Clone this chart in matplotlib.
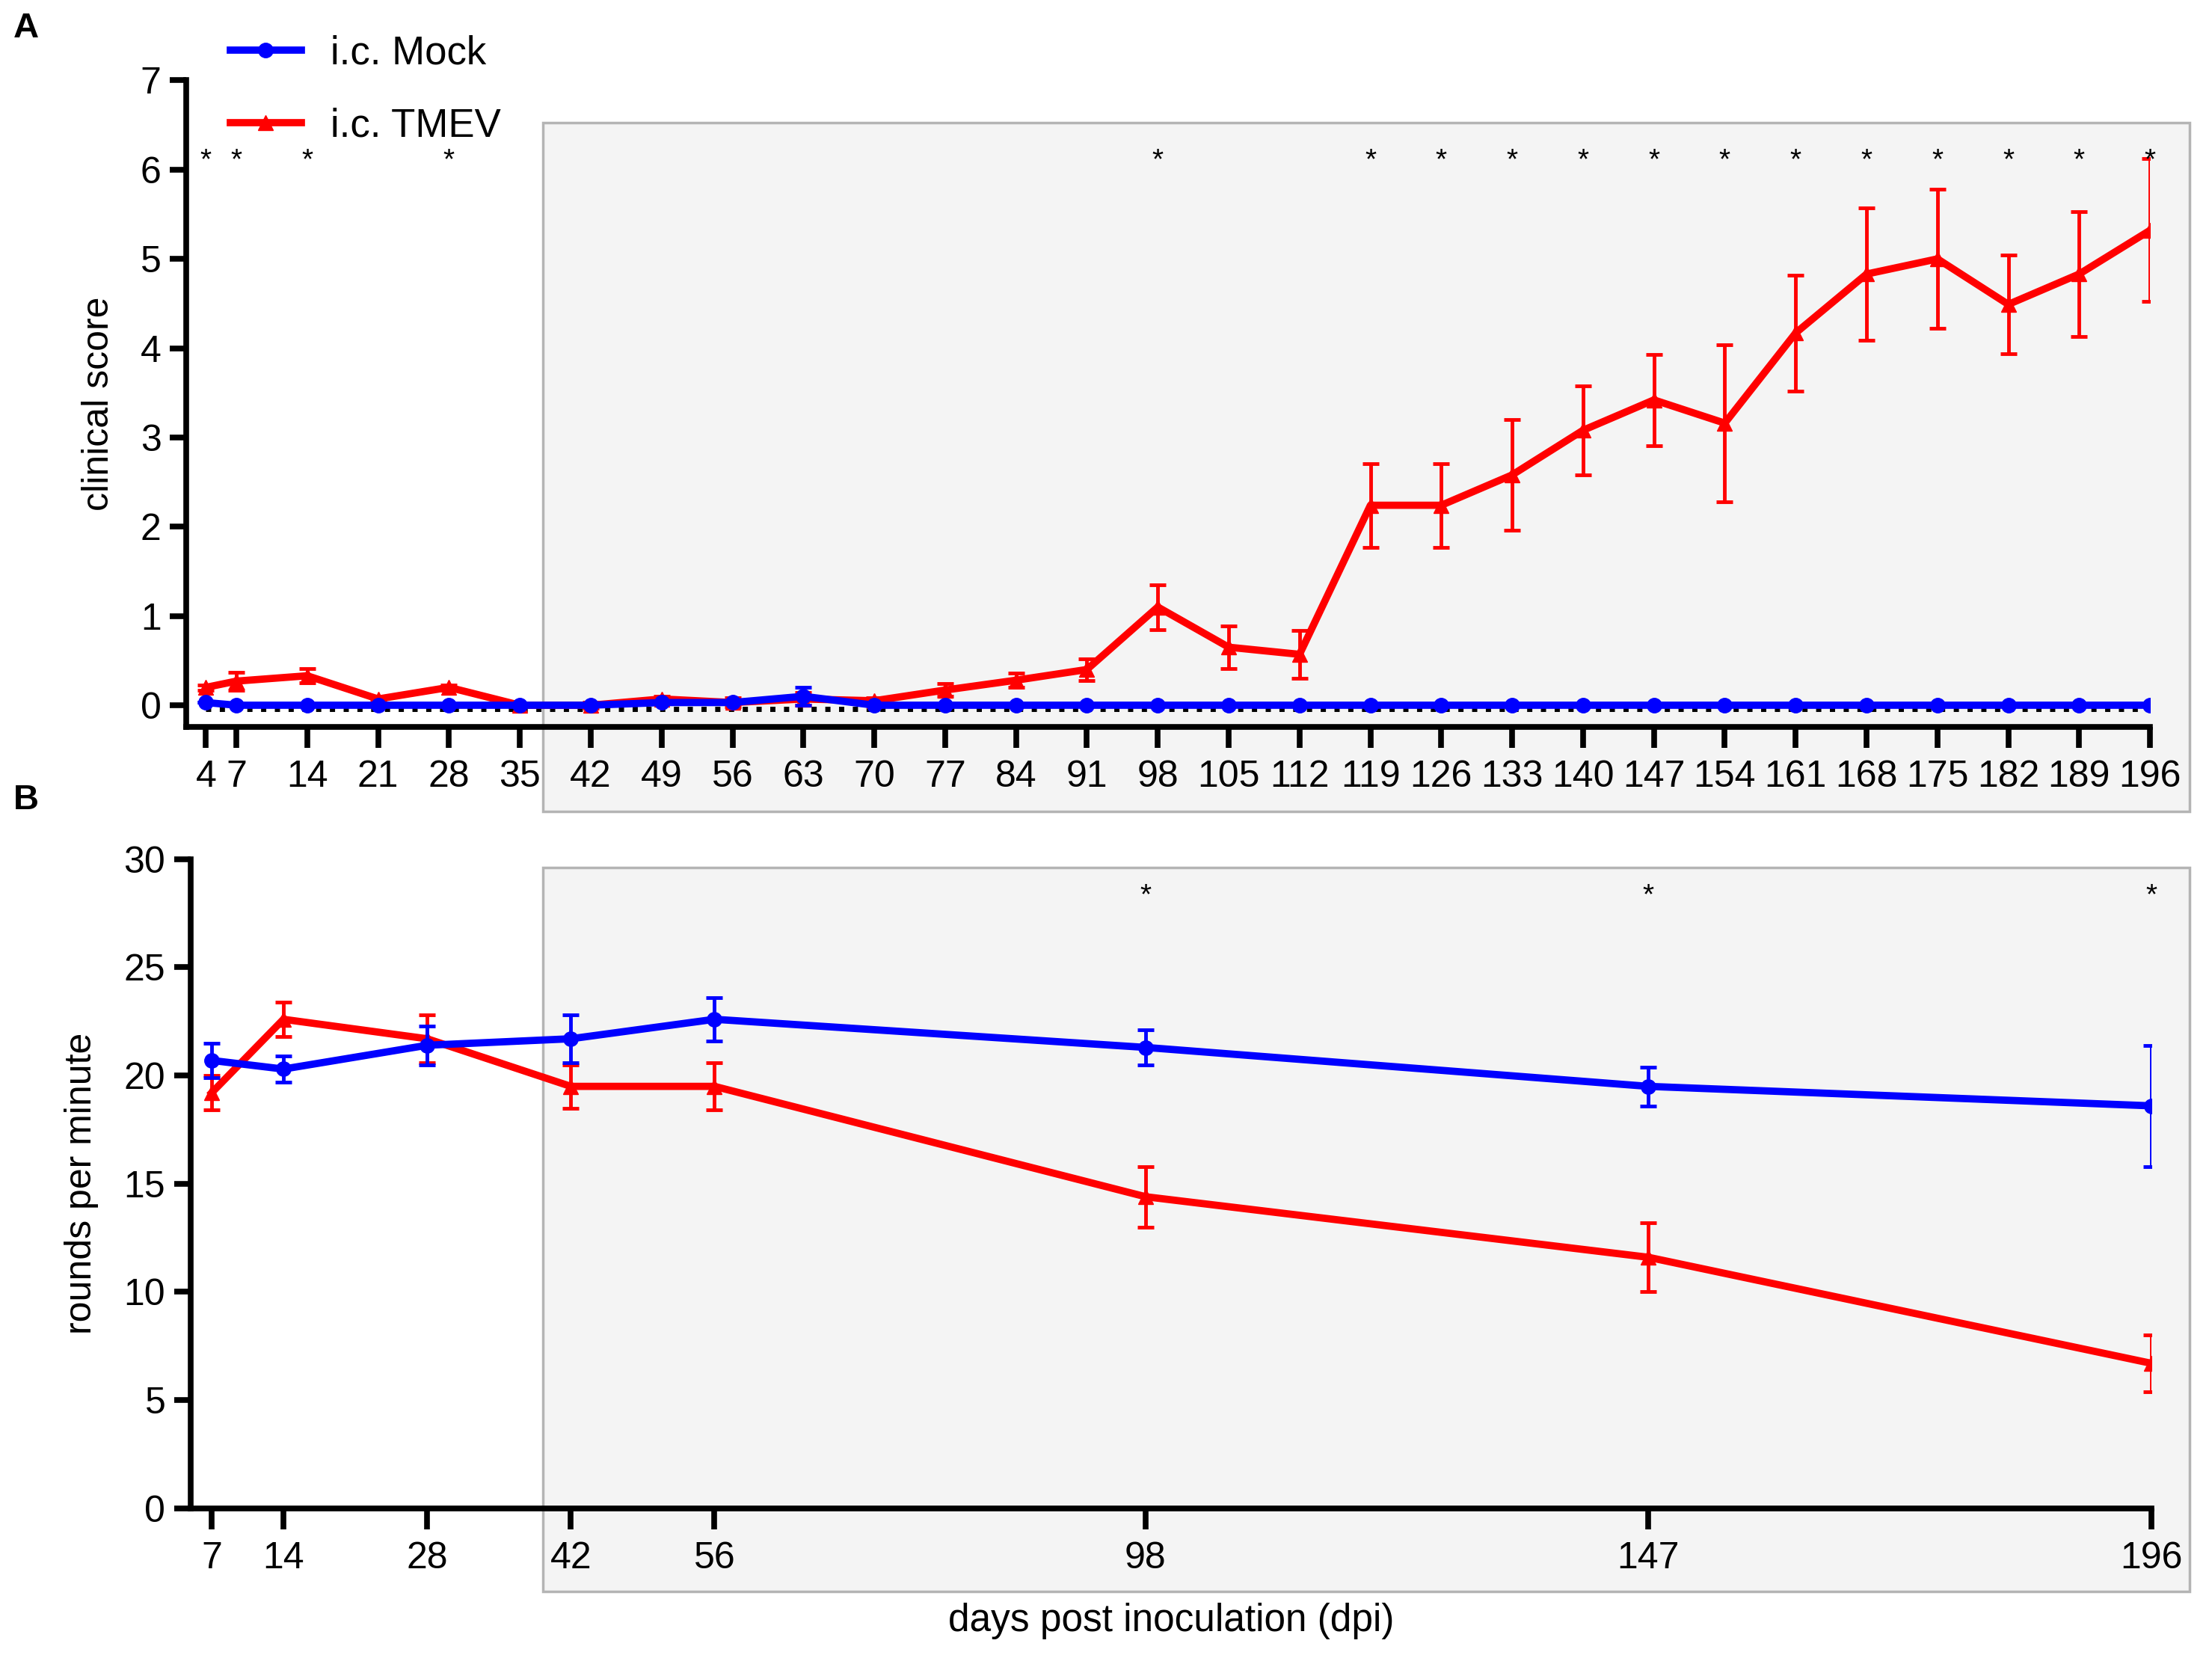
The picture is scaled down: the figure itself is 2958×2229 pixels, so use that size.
import numpy as np
import matplotlib
matplotlib.use("Agg")
from matplotlib import pyplot as plt
from matplotlib.patches import Rectangle
from matplotlib.lines import Line2D

plt.rcParams['font.family'] = ['Liberation Sans', 'DejaVu Sans']

# panel A: clinical score
days_a = [4, 7, 14, 21, 28, 35, 42, 49, 56, 63, 70, 77, 84, 91, 98, 105, 112,
          119, 126, 133, 140, 147, 154, 161, 168, 175, 182, 189, 196]
tmev_a = [0.2, 0.27, 0.33, 0.07, 0.2, 0.0, 0.0, 0.07, 0.03, 0.07, 0.05, 0.17, 0.28, 0.4,
          1.1, 0.65, 0.57, 2.24, 2.24, 2.58, 3.08, 3.42, 3.16, 4.17, 4.83, 5.0, 4.49, 4.83, 5.32]
tmev_a_err = [0.03, 0.1, 0.08, 0.03, 0.03, 0.0, 0.03, 0.03, 0.05, 0.07, 0.03, 0.07, 0.08, 0.12,
              0.25, 0.24, 0.27, 0.47, 0.47, 0.62, 0.5, 0.51, 0.88, 0.65, 0.74, 0.78, 0.55, 0.7, 0.8]
mock_a = [0.03, 0, 0, 0, 0, 0, 0, 0.03, 0.03, 0.1, 0, 0, 0, 0,
          0, 0, 0, 0, 0, 0, 0, 0, 0, 0, 0, 0, 0, 0, 0]
mock_a_err = [0, 0, 0, 0, 0, 0, 0, 0, 0, 0.1, 0, 0, 0, 0,
              0, 0, 0, 0, 0, 0, 0, 0, 0, 0, 0, 0, 0, 0, 0]
stars_a = [4, 7, 14, 28, 98, 119, 126, 133, 140, 147, 154, 161, 168, 175, 182, 189, 196]

# panel B: rotarod
days_b = [7, 14, 28, 42, 56, 98, 147, 196]
mock_b = [20.7, 20.3, 21.4, 21.7, 22.6, 21.3, 19.5, 18.6]
mock_b_err = [0.8, 0.6, 0.9, 1.1, 1.0, 0.8, 0.9, 2.8]
tmev_b = [19.2, 22.6, 21.7, 19.5, 19.5, 14.4, 11.6, 6.7]
tmev_b_err = [0.8, 0.8, 1.1, 1.0, 1.1, 1.4, 1.6, 1.3]
stars_b = [98, 147, 196]

blue = '#0000ff'
red = '#ff0000'
fs = 36

fig = plt.figure(figsize=(29.58, 22.29), dpi=100)

# grey boxes behind the later time points
fig.patches.append(Rectangle((0.2455, 0.5133), 0.7443, 0.413, transform=fig.transFigure,
                             facecolor='#f4f4f4', edgecolor='#b4b4b4', lw=2.5, zorder=-1))
fig.patches.append(Rectangle((0.2455, 0.0453), 0.7443, 0.4342, transform=fig.transFigure,
                             facecolor='#f4f4f4', edgecolor='#b4b4b4', lw=2.5, zorder=-1))

ax1 = fig.add_axes([0.0842, 0.5641, 0.8878, 0.3877])
ax2 = fig.add_axes([0.0861, 0.0952, 0.8865, 0.3894])

for ax in (ax1, ax2):
    ax.patch.set_alpha(0)
    ax.spines['top'].set_visible(False)
    ax.spines['right'].set_visible(False)
    ax.spines['left'].set_linewidth(5.5)
    ax.spines['bottom'].set_linewidth(5.5)
    ax.tick_params(width=5.5, length=16, pad=8, labelsize=fs)
    ax.tick_params(axis='x', length=20, pad=12)

ekw = dict(lw=7, ms=14, elinewidth=3.5, capsize=8, capthick=3.5)

# panel A
ax1.plot(days_a, [-0.04] * len(days_a), ls=':', color='black', lw=5, zorder=1)
ax1.errorbar(days_a, tmev_a, yerr=tmev_a_err, color=red, marker='^', zorder=2, **ekw)
ax1.errorbar(days_a, mock_a, yerr=mock_a_err, color=blue, marker='o', zorder=3, **ekw)
for d in stars_a:
    ax1.text(d, 6.1, '*', ha='center', va='center', fontsize=28)
ax1.set_xlim(2.05, 196)
ax1.set_ylim(-0.24, 7)
ax1.set_xticks(days_a)
ax1.set_yticks(range(0, 8))
ax1.set_ylabel('clinical score', fontsize=fs, labelpad=24)

# panel B
ax2.errorbar(days_b, tmev_b, yerr=tmev_b_err, color=red, marker='^', zorder=2, **ekw)
ax2.errorbar(days_b, mock_b, yerr=mock_b_err, color=blue, marker='o', zorder=3, **ekw)
for d in stars_b:
    ax2.text(d, 28.3, '*', ha='center', va='center', fontsize=28)
ax2.set_xlim(4.94, 196)
ax2.set_ylim(0, 30)
ax2.set_xticks(days_b)
ax2.set_yticks(range(0, 31, 5))
ax2.set_ylabel('rounds per minute', fontsize=fs, labelpad=24)
ax2.set_xlabel('days post inoculation (dpi)', fontsize=fs + 1, labelpad=26)

# legend
handles = [Line2D([], [], color=blue, lw=7, marker='o', ms=14),
           Line2D([], [], color=red, lw=7, marker='^', ms=14)]
fig.legend(handles, ['i.c. Mock', 'i.c. TMEV'], loc='upper left', bbox_to_anchor=(0.104, 0.979),
           frameon=False, fontsize=38, handlelength=1.8, handletextpad=0.75,
           labelspacing=0.88, borderpad=0, borderaxespad=0)

fig.text(0.006, 0.993, 'A', fontsize=34, fontweight='bold', va='top')
fig.text(0.006, 0.53, 'B', fontsize=34, fontweight='bold', va='top')

fig.savefig('out.png', dpi=100)
